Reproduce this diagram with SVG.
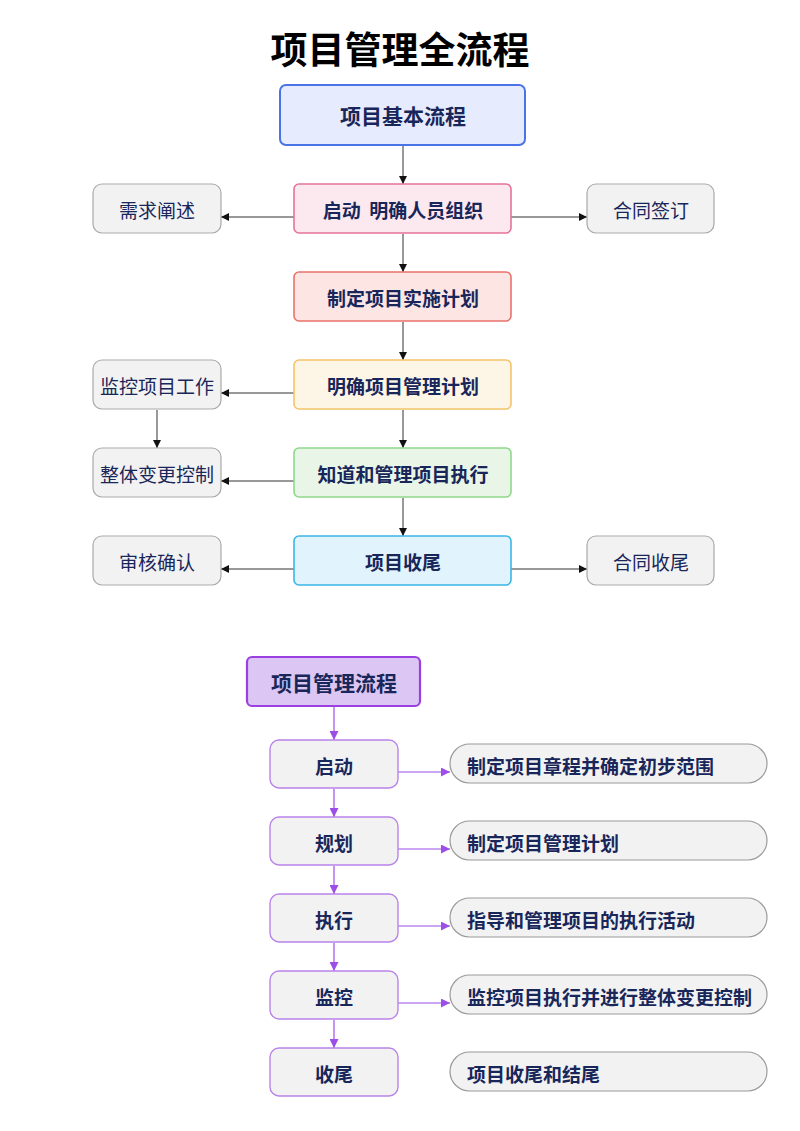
<svg xmlns="http://www.w3.org/2000/svg" width="800" height="1131" viewBox="0 0 800 1131">
<style>
text{font-family:"Noto Sans CJK SC","Noto Sans",sans-serif;fill:#18265a;text-anchor:middle;dominant-baseline:central}
.b{font-weight:bold;font-size:19px}
.n{font-size:19px}
.side{fill:#f2f2f2;stroke:#a9a9a9;stroke-width:1.2}
.k{stroke:#333;stroke-width:1;fill:none;marker-end:url(#ak)}
.p{stroke:#9c4ee8;stroke-width:1.2;fill:none;marker-end:url(#ap)}
.pb{fill:#f2f2f2;stroke:#b983ea;stroke-width:1.4}
.pill{fill:#f2f2f2;stroke:#9a9a9a;stroke-width:1.2}
.l{text-anchor:start}
</style>
<defs>
<marker id="ak" viewBox="0 0 10 10" refX="10" refY="5" markerWidth="8" markerHeight="8" markerUnits="userSpaceOnUse" orient="auto"><path d="M0,0L10,5L0,10z" fill="#111"/></marker>
<marker id="ap" viewBox="0 0 10 10" refX="10" refY="5" markerWidth="9" markerHeight="9" markerUnits="userSpaceOnUse" orient="auto"><path d="M0,0L10,5L0,10z" fill="#9c4ee8"/></marker>
</defs>
<rect width="800" height="1131" fill="#fff"/>
<text x="400" y="48" style="font-size:37px;font-weight:bold;fill:#000">项目管理全流程</text>

<g id="connectors">
<path class="k" d="M403,146V184"/>
<path class="k" d="M403,234V272"/>
<path class="k" d="M403,322V360"/>
<path class="k" d="M403,410V448"/>
<path class="k" d="M403,498V536"/>
<path class="k" d="M294,217H221"/>
<path class="k" d="M511,217H587"/>
<path class="k" d="M294,393H221"/>
<path class="k" d="M157,410V448"/>
<path class="k" d="M294,481H221"/>
<path class="k" d="M294,569H221"/>
<path class="k" d="M511,569H587"/>
<path class="p" d="M334,707V740"/>
<path class="p" d="M334,789V817"/>
<path class="p" d="M334,866V894"/>
<path class="p" d="M334,943V971"/>
<path class="p" d="M334,1020V1048"/>
<path class="p" d="M398,772H450"/>
<path class="p" d="M398,849H450"/>
<path class="p" d="M398,926H450"/>
<path class="p" d="M398,1003H450"/>
</g>

<g id="n-basic"><rect x="280" y="85" width="245" height="60" rx="6" fill="#e6ecfd" stroke="#4a73e8" stroke-width="2"/><text class="b" x="403" y="115" style="font-size:21px">项目基本流程</text></g>
<g id="n-start"><rect x="294" y="184" width="217" height="49" rx="5" fill="#fce8ef" stroke="#e57399" stroke-width="1.6"/><text class="b" x="403" y="209" xml:space="preserve">启动  明确人员组织</text></g>
<g id="n-plan"><rect x="294" y="272" width="217" height="49" rx="5" fill="#fde5e3" stroke="#e8736a" stroke-width="1.6"/><text class="b" x="403" y="297">制定项目实施计划</text></g>
<g id="n-mplan"><rect x="294" y="360" width="217" height="49" rx="5" fill="#fdf6e6" stroke="#f5c36a" stroke-width="1.6"/><text class="b" x="403" y="385">明确项目管理计划</text></g>
<g id="n-exec"><rect x="294" y="448" width="217" height="49" rx="5" fill="#e9f6e7" stroke="#8fd88a" stroke-width="1.6"/><text class="b" x="403" y="473">知道和管理项目执行</text></g>
<g id="n-close"><rect x="294" y="536" width="217" height="49" rx="5" fill="#e1f3fd" stroke="#3bb6e6" stroke-width="1.6"/><text class="b" x="403" y="561">项目收尾</text></g>

<g id="n-req"><rect class="side" x="93" y="184" width="128" height="49" rx="9"/><text class="n" x="157" y="209">需求阐述</text></g>
<g id="n-contract"><rect class="side" x="587" y="184" width="127" height="49" rx="9"/><text class="n" x="651" y="209">合同签订</text></g>
<g id="n-monitor"><rect class="side" x="93" y="360" width="128" height="49" rx="9"/><text class="n" x="157" y="385">监控项目工作</text></g>
<g id="n-change"><rect class="side" x="93" y="448" width="128" height="49" rx="9"/><text class="n" x="157" y="473">整体变更控制</text></g>
<g id="n-review"><rect class="side" x="93" y="536" width="128" height="49" rx="9"/><text class="n" x="157" y="561">审核确认</text></g>
<g id="n-cclose"><rect class="side" x="587" y="536" width="127" height="49" rx="9"/><text class="n" x="651" y="561">合同收尾</text></g>

<g id="n-pm"><rect x="247" y="657" width="173" height="49" rx="5" fill="#dcc6f3" stroke="#9b3fe0" stroke-width="2.2"/><text class="b" x="334" y="682" style="font-size:21px">项目管理流程</text></g>
<g id="n-p1"><rect class="pb" x="270" y="740" width="128" height="48" rx="9"/><text class="b" x="334" y="765">启动</text></g>
<g id="n-p2"><rect class="pb" x="270" y="817" width="128" height="48" rx="9"/><text class="b" x="334" y="842">规划</text></g>
<g id="n-p3"><rect class="pb" x="270" y="894" width="128" height="48" rx="9"/><text class="b" x="334" y="919">执行</text></g>
<g id="n-p4"><rect class="pb" x="270" y="971" width="128" height="48" rx="9"/><text class="b" x="334" y="996">监控</text></g>
<g id="n-p5"><rect class="pb" x="270" y="1048" width="128" height="48" rx="9"/><text class="b" x="334" y="1073">收尾</text></g>

<g id="n-d1"><rect class="pill" x="450" y="744" width="317" height="39" rx="19.5"/><text class="b l" x="467" y="765">制定项目章程并确定初步范围</text></g>
<g id="n-d2"><rect class="pill" x="450" y="821" width="317" height="39" rx="19.5"/><text class="b l" x="467" y="842">制定项目管理计划</text></g>
<g id="n-d3"><rect class="pill" x="450" y="898" width="317" height="39" rx="19.5"/><text class="b l" x="467" y="919">指导和管理项目的执行活动</text></g>
<g id="n-d4"><rect class="pill" x="450" y="975" width="317" height="39" rx="19.5"/><text class="b l" x="467" y="996">监控项目执行并进行整体变更控制</text></g>
<g id="n-d5"><rect class="pill" x="450" y="1052" width="317" height="39" rx="19.5"/><text class="b l" x="467" y="1073">项目收尾和结尾</text></g>
</svg>
